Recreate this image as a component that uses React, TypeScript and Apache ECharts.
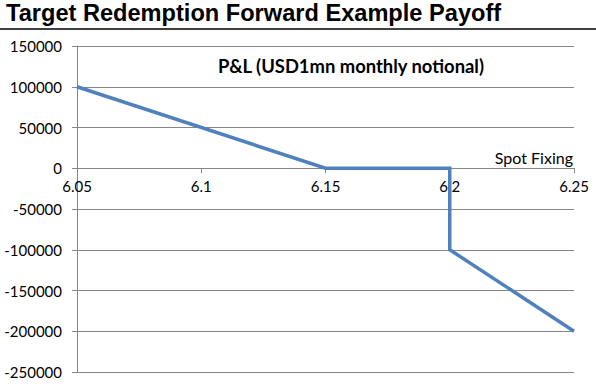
import React, { useEffect, useRef } from "react";
import * as echarts from "echarts";

const spotFixing: number[] = [6.05, 6.15, 6.2, 6.2, 6.25];
const pnl: number[] = [100000, 0, 0, -100000, -200000];

const chartTitle = "Target Redemption Forward Example Payoff";
const seriesTitle = "P&L (USD1mn monthly notional)";
const xAxisName = "Spot Fixing";

const yMin = -250000;
const yMax = 150000;
const yStep = 50000;
const xMin = 6.05;
const xMax = 6.25;
const xStep = 0.05;

const gridTop = 46;
const gridBottom = 15;
const chartH = 387;

export default function App() {
  const ref = useRef<HTMLDivElement>(null);
  useEffect(() => {
    if (!ref.current) return;
    const chart = echarts.init(ref.current, undefined, { renderer: "svg" });
    const grid = "#868686";
    const lbl = { color: "#000", fontFamily: "Lato", fontSize: 15 };
    const plotH = chartH - gridTop - gridBottom;
    // distance from the bottom of the plot up to the zero line
    const zeroOffset = (plotH * (0 - yMin)) / (yMax - yMin);
    chart.setOption({
      animation: false,
      backgroundColor: "#fff",
      title: {
        text: chartTitle,
        left: 6,
        top: 0,
        padding: 0,
        textStyle: {
          fontFamily: "Liberation Sans",
          fontWeight: "bold",
          fontSize: 23.6,
          lineHeight: 26,
          color: "#000",
        },
      },
      graphic: [
        {
          type: "line",
          shape: { x1: 0, y1: 29, x2: 596, y2: 29 },
          style: { stroke: "#000", lineWidth: 1.3 },
        },
        {
          type: "text",
          left: 218,
          top: 57,
          style: {
            text: seriesTitle,
            fontFamily: "Lato",
            fontWeight: "bold",
            fontSize: 18.4,
            fill: "#000",
          },
        },
        {
          type: "text",
          right: 23,
          top: 149,
          style: {
            text: xAxisName,
            fontFamily: "Lato",
            fontSize: 16,
            fill: "#000",
          },
        },
      ],
      grid: {
        left: 77,
        right: 22,
        top: gridTop,
        bottom: gridBottom,
        containLabel: false,
        outerBoundsMode: "none",
      },
      xAxis: {
        type: "value",
        position: "bottom",
        offset: -zeroOffset,
        min: xMin,
        max: xMax,
        interval: xStep,
        axisLine: { onZero: false, lineStyle: { color: grid, width: 1 } },
        axisTick: { show: true, inside: false, length: 5, lineStyle: { color: grid } },
        axisLabel: { ...lbl, margin: 10, showMinLabel: true, showMaxLabel: true },
        splitLine: { show: false },
      },
      yAxis: {
        type: "value",
        min: yMin,
        max: yMax,
        interval: yStep,
        axisLine: { show: true, onZero: false, lineStyle: { color: grid, width: 1 } },
        axisTick: { show: true, inside: false, length: 5, lineStyle: { color: grid } },
        axisLabel: { ...lbl, margin: 15, formatter: (v: number) => String(v) },
        splitLine: { show: true, lineStyle: { color: grid, width: 1 } },
      },
      series: [
        {
          type: "line",
          data: spotFixing.map((x, i) => [x, pnl[i]]),
          showSymbol: false,
          symbol: "none",
          lineStyle: { color: "#4F81BD", width: 3.5, join: "miter" },
          itemStyle: { color: "#4F81BD" },
        },
      ],
    });
    return () => chart.dispose();
  }, []);
  return (
    <div
      ref={ref}
      style={{ position: "fixed", left: 0, top: 0, width: 596, height: 387 }}
    />
  );
}
